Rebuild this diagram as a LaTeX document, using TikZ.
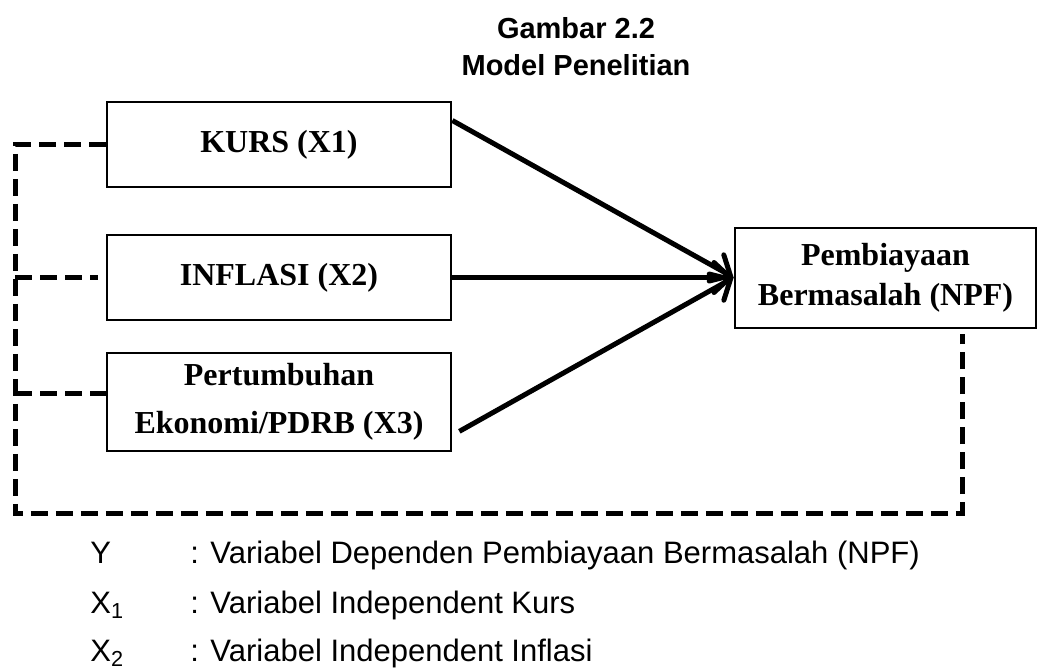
\documentclass[tikz,border=0pt]{standalone}
\usepackage{fontspec}
\setmainfont{Liberation Serif}
\setsansfont{Liberation Sans}
\usetikzlibrary{arrows.meta}

\begin{document}
\begin{tikzpicture}[x=0.5pt,y=-0.5pt]
        %gaya
        \tikzset{
            kotak/.style={draw,line width=1.35pt,minimum width=172pt,minimum height=42.5pt,
                inner sep=0pt,align=center,font=\fontsize{16}{24}\selectfont\bfseries},
            putus/.style={line width=2.5pt,dash pattern=on 8.5pt off 4pt},
            panah/.style={line width=2.5pt,-{Straight Barb[length=8pt,width=15pt,line cap=round]}},
            ket/.style={anchor=base west,inner sep=0pt,font=\sffamily\fontsize{15.5}{18}\selectfont}
        }
        \useasboundingbox (0,0) rectangle (1038,671);

        % Judul
        \node[align=center,font=\sffamily\bfseries\fontsize{14.5}{18.5}\selectfont] (judul) at (576,46.5)
            {Gambar 2.2\\Model Penelitian};

        % Kotak variabel
        \node[kotak] (kurs) at (279,144.5) {KURS (X1)};
        \node[kotak] (inflasi) at (279,277.5) {INFLASI (X2)};
        \node[kotak,minimum height=49pt] (pdrb) at (279,402) {Pertumbuhan\\Ekonomi/PDRB (X3)};
        \node[kotak,minimum width=150.5pt,minimum height=50pt,font=\fontsize{16}{20}\selectfont\bfseries]
            (npf) at (885.5,278) {Pembiayaan\\Bermasalah (NPF)};

        % Panah pengaruh
        \coordinate (tuju) at (inflasi.east -| npf.west);
        \draw[panah] ([yshift=12pt]kurs.east) -- (tuju);
        \draw[panah] (inflasi.east) -- (tuju);
        \draw[panah] ([xshift=3.5pt,yshift=10.5pt]pdrb.south east) -- (tuju);

        % Garis putus-putus
        \coordinate (sudutkiri) at (15,513);
        \coordinate (sudutkanan) at (962,513);
        \draw[putus] (kurs.west) -- (kurs.west -| sudutkiri) -- (sudutkiri) -- (sudutkanan)
            -- ([yshift=-2.5pt]sudutkanan |- npf.south);
        \draw[putus] (inflasi.west -| sudutkiri) -- ([xshift=-4pt]inflasi.west);
        \draw[putus] ([yshift=4.5pt]pdrb.west -| sudutkiri) -- ([yshift=4.5pt]pdrb.west);

        % Keterangan
        \foreach \simbol/\arti/\yy in {Y/Variabel Dependen Pembiayaan Bermasalah (NPF)/563,
            X\textsubscript{1}/Variabel Independent Kurs/613,X\textsubscript{2}/Variabel Independent Inflasi/661}
        {
            \node[ket] (sim\yy) at (90,\yy) {\simbol};
            \node[ket] (arti\yy) at (190,\yy) {: \arti};
        }
    \end{tikzpicture}
\end{document}
